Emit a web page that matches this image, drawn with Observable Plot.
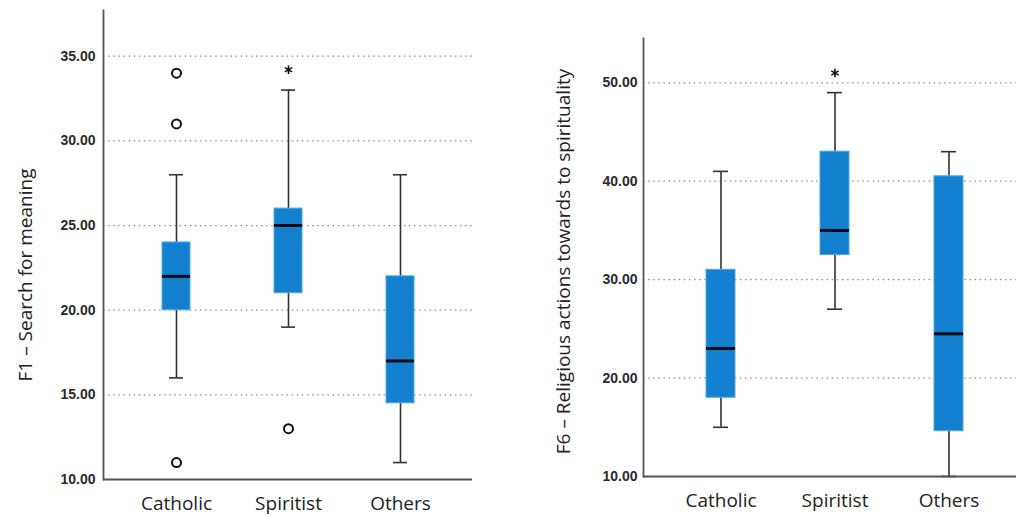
<!DOCTYPE html>
<html>
<head>
<meta charset="utf-8">
<script src="https://cdn.jsdelivr.net/npm/d3@7"></script>
<script src="https://cdn.jsdelivr.net/npm/@observablehq/plot@0.6"></script>
<style>
  html, body { margin: 0; padding: 0; background: #fff; overflow: hidden; }
  #wrap { display: flex; flex-direction: row; width: 1016px; height: 516px; }
  #wrap svg { display: block; }
</style>
</head>
<body>
<div id="wrap"></div>
<script>
// ---- data ----
const categories = ["Catholic", "Spiritist", "Others"];

// Panel 1: F1 – Search for meaning
const f1Label = "F1 – Search for meaning";
const f1Ticks = [10, 15, 20, 25, 30, 35];
const f1Q1 = [20, 21, 14.5];
const f1Median = [22, 25, 17];
const f1Q3 = [24, 26, 22];
const f1WhiskerLow = [16, 19, 11];
const f1WhiskerHigh = [28, 33, 28];
const f1Outliers = [["Catholic", 34], ["Catholic", 31], ["Catholic", 11], ["Spiritist", 13]];
const f1Extremes = [["Spiritist", 34.2]];

// Panel 2: F6 – Religious actions towards to spirituality
const f6Label = "F6 – Religious actions towards to spirituality";
const f6Ticks = [10, 20, 30, 40, 50];
const f6Q1 = [18, 32.5, 14.6];
const f6Median = [23, 35, 24.5];
const f6Q3 = [31, 43, 40.5];
const f6WhiskerLow = [15, 27, 10];
const f6WhiskerHigh = [41, 49, 43];
const f6Outliers = [];
const f6Extremes = [["Spiritist", 51]];

function rows(q1, med, q3, lo, hi) {
  return categories.map((c, i) => ({cat: c, q1: q1[i], med: med[i], q3: q3[i], lo: lo[i], hi: hi[i]}));
}

const BOX = "#1380cf";
const BOX_EDGE = "#4fa9e6";
const AXIS = "#555";
const TEXT_FONT = "'Open Sans', 'Noto Sans', sans-serif";
const TICK_FONT = "Arial, 'Liberation Sans', sans-serif";

function panel({data, outliers, extremes, ticks, label, width, height, margins, yDomain, align, paddingInner, paddingOuter, labelDx, labelDy, tickPadding}) {
  const gridTicks = ticks.slice(1);
  return Plot.plot({
    width, height,
    marginLeft: margins[0], marginRight: margins[1], marginTop: margins[2], marginBottom: margins[3],
    style: {background: "#fff", overflow: "visible"},
    x: {type: "band", domain: categories, paddingInner, paddingOuter, align, label: null},
    y: {domain: yDomain, label: null, axis: null},
    marks: [
      Plot.ruleY(gridTicks, {stroke: "#8f8f8f", strokeWidth: 1.3, strokeDasharray: "1.5,3.6"}),
      Plot.ruleX(data, {x: "cat", y1: "lo", y2: "hi", stroke: "#333", strokeWidth: 1.6}),
      Plot.tickY(data, {x: "cat", y: "lo", stroke: "#333", strokeWidth: 1.6, insetLeft: 7, insetRight: 7}),
      Plot.tickY(data, {x: "cat", y: "hi", stroke: "#333", strokeWidth: 1.6, insetLeft: 7, insetRight: 7}),
      Plot.barY(data, {x: "cat", y1: "q1", y2: "q3", fill: BOX, stroke: BOX_EDGE, strokeWidth: 1}),
      Plot.tickY(data, {x: "cat", y: "med", stroke: "#0a0a14", strokeWidth: 3}),
      Plot.dot(outliers, {x: d => d[0], y: d => d[1], r: 4.5, stroke: "#111", strokeWidth: 2, fill: "none"}),
      Plot.dot(extremes, {x: d => d[0], y: d => d[1], r: 4, symbol: "asterisk", stroke: "#111", strokeWidth: 1.6}),
      Plot.ruleY([yDomain[0]], {stroke: AXIS, strokeWidth: 1.8}),
      Plot.frame({anchor: "left", stroke: AXIS, strokeWidth: 1.8}),
      Plot.text(ticks, {y: d => d, text: d => d.toFixed(2), frameAnchor: "left", dx: -tickPadding, textAnchor: "end",
        fontFamily: TICK_FONT, fontWeight: "bold", fontSize: 14, fill: "#2a2a2a"}),
      Plot.axisX({tickSize: 0, tickPadding: 17, label: null, fontFamily: TEXT_FONT, fontSize: 19, fill: "#222"}),
      Plot.text([label], {frameAnchor: "left", rotate: -90, dx: labelDx, dy: labelDy,
        fontFamily: TEXT_FONT, fontSize: 19, fill: "#222", textAnchor: "middle", lineAnchor: "middle"})
    ]
  });
}

const wrap = document.getElementById("wrap");

wrap.appendChild(panel({
  data: rows(f1Q1, f1Median, f1Q3, f1WhiskerLow, f1WhiskerHigh),
  outliers: f1Outliers, extremes: f1Extremes, ticks: f1Ticks, label: f1Label,
  width: 500, height: 516, margins: [103, 28, 10, 37], yDomain: [10, 37.7],
  paddingInner: 0.75, paddingOuter: 0.52, align: 0.5, labelDx: -78, labelDy: 30, tickPadding: 8
}));

wrap.appendChild(panel({
  data: rows(f6Q1, f6Median, f6Q3, f6WhiskerLow, f6WhiskerHigh),
  outliers: f6Outliers, extremes: f6Extremes, ticks: f6Ticks, label: f6Label,
  width: 516, height: 516, margins: [143, 0, 38, 40], yDomain: [10, 54.5],
  paddingInner: 0.748, paddingOuter: 0.496, align: 0.54, labelDx: -80, labelDy: 4, tickPadding: 6
}));
</script>
</body>
</html>
